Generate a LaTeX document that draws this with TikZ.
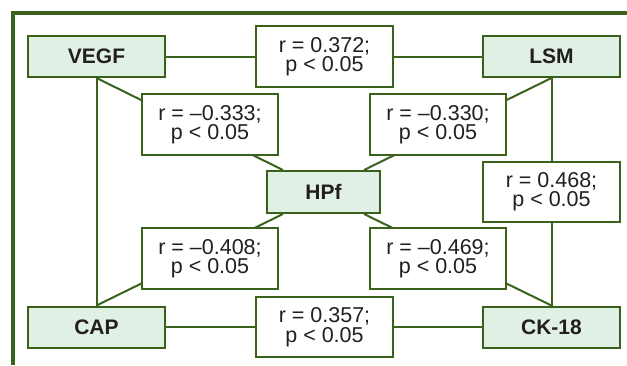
\documentclass[tikz,border=0pt]{standalone}
\usepackage{fontspec}
\setmainfont{Liberation Sans}
\usetikzlibrary{backgrounds}
\definecolor{framegreen}{RGB}{58,98,28}
\definecolor{boxfill}{RGB}{224,240,228}
\definecolor{inkdark}{RGB}{35,31,32}
\tikzset{
  varbox/.style={draw=framegreen, line width=2pt, fill=boxfill, inner sep=0pt,
    minimum width=137pt, minimum height=41pt, text=inkdark,
    font=\fontsize{21}{20}\selectfont\bfseries},
  statbox/.style={draw=framegreen, line width=2pt, fill=white, inner sep=0pt,
    minimum width=136pt, minimum height=61pt, text=inkdark, align=center,
    font=\fontsize{21.5}{19.5}\selectfont},
  link/.style={draw=framegreen, line width=2pt},
  frameline/.style={draw=framegreen, line width=4pt}
}
\begin{document}
\begin{tikzpicture}[x=1pt, y=-1pt]
\useasboundingbox (0,0) rectangle (627,365);

% outer frame: top and left edges only
\coordinate (fcorner) at (12.5,12.5);
\coordinate (ftop) at (627,12.5);
\coordinate (fleft) at (12.5,365);
\draw[frameline] (ftop) -- (fcorner) -- (fleft);

% variables
\node[varbox] (vegf) at (96.5,56.5) {VEGF};
\node[varbox] (lsm)  at (551.5,56.5) {LSM};
\node[varbox] (cap)  at (96.5,327) {CAP};
\node[varbox] (ck)   at (551.5,327) {CK-18};
\node[varbox, minimum width=113pt, minimum height=42pt] (hpf) at (323.5,192) {HPf};

% correlations
\node[statbox, minimum width=137pt] (s1) at (324.5,56.5) {r = 0.372;\\p < 0.05};
\node[statbox] (s2) at (210,124.5) {r = –0.333;\\p < 0.05};
\node[statbox] (s3) at (438,124.5) {r = –0.330;\\p < 0.05};
\node[statbox, minimum width=137pt, minimum height=60pt] (s4) at (551.5,191.5) {r = 0.468;\\p < 0.05};
\node[statbox] (s5) at (210,258.5) {r = –0.408;\\p < 0.05};
\node[statbox] (s6) at (438,258.5) {r = –0.469;\\p < 0.05};
\node[statbox, minimum width=137pt, minimum height=60pt] (s7) at (324.5,327) {r = 0.357;\\p < 0.05};

% attachment points on HPf
\coordinate (hnw) at ([xshift=17pt]hpf.north west);
\coordinate (hne) at ([xshift=-17pt]hpf.north east);
\coordinate (hsw) at ([xshift=17pt]hpf.south west);
\coordinate (hse) at ([xshift=-17pt]hpf.south east);

% connectors run behind the boxes
\begin{scope}[on background layer]
  \draw[link] (vegf.east) -- (lsm.west);
  \draw[link] (cap.east) -- (ck.west);
  \draw[link] (vegf.south) -- (cap.north);
  \draw[link] (lsm.south) -- (ck.north);
  \draw[link] (vegf.south) -- (hnw);
  \draw[link] (lsm.south) -- (hne);
  \draw[link] (cap.north) -- (hsw);
  \draw[link] (ck.north) -- (hse);
\end{scope}
\end{tikzpicture}
\end{document}
